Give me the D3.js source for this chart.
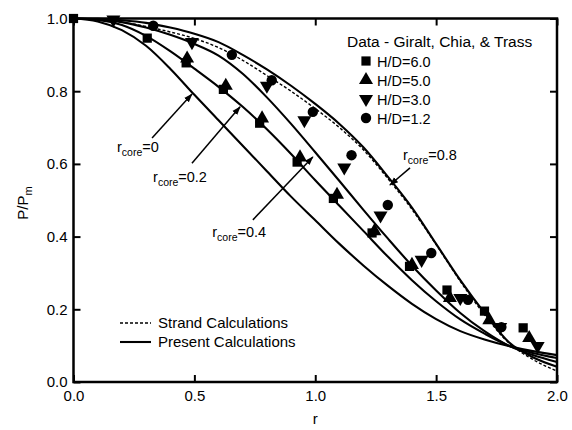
<!DOCTYPE html>
<html>
<head>
<meta charset="utf-8">
<script src="https://cdn.jsdelivr.net/npm/d3@7"></script>
<style>
  html, body { margin: 0; padding: 0; background: #fff; }
  svg { display: block; font-family: "Liberation Sans", Arial, Helvetica, sans-serif; }
</style>
</head>
<body>
<svg id="chart" width="572" height="430"></svg>
<script>
// Radial grid shared by all computed profiles
const rCurve = [0, 0.1, 0.2, 0.3, 0.4, 0.5, 0.6, 0.7, 0.8, 0.9, 1.0, 1.1, 1.2, 1.3, 1.4, 1.5, 1.6, 1.7, 1.8, 1.9, 2.0];

// Present calculations, P/Pm for each core radius
const core00 = [1.0, 0.992, 0.968, 0.925, 0.862, 0.79, 0.72, 0.65, 0.58, 0.51, 0.445, 0.38, 0.32, 0.265, 0.215, 0.173, 0.14, 0.117, 0.099, 0.085, 0.074];
const core02 = [1.0, 0.996, 0.982, 0.952, 0.91, 0.862, 0.812, 0.757, 0.695, 0.627, 0.555, 0.485, 0.415, 0.345, 0.28, 0.222, 0.172, 0.133, 0.1, 0.08, 0.066];
const core04 = [1.0, 0.998, 0.99, 0.975, 0.955, 0.93, 0.898, 0.848, 0.783, 0.71, 0.632, 0.553, 0.473, 0.395, 0.32, 0.252, 0.19, 0.14, 0.1, 0.074, 0.055];
const core08 = [1.0, 0.999, 0.995, 0.988, 0.975, 0.958, 0.935, 0.9, 0.86, 0.815, 0.765, 0.71, 0.645, 0.565, 0.48, 0.38, 0.28, 0.19, 0.11, 0.068, 0.042];

// Strand calculations
const strand = [1.0, 0.998, 0.99, 0.978, 0.963, 0.945, 0.92, 0.885, 0.843, 0.8, 0.752, 0.7, 0.638, 0.56, 0.475, 0.378, 0.277, 0.185, 0.108, 0.062, 0.03];

// Measured data (Giralt, Chia & Trass): radius and P/Pm per H/D
const hd60R = [0, 0.305, 0.466, 0.62, 0.77, 0.925, 1.075, 1.235, 1.39, 1.545, 1.70, 1.86];
const hd60P = [1.0, 0.946, 0.878, 0.805, 0.712, 0.605, 0.505, 0.41, 0.318, 0.253, 0.195, 0.149];
const hd50R = [0.47, 0.63, 0.78, 0.937, 1.09, 1.245, 1.40, 1.557, 1.72, 1.885];
const hd50P = [0.89, 0.815, 0.725, 0.618, 0.515, 0.415, 0.322, 0.231, 0.17, 0.121];
const hd30R = [0.165, 0.49, 0.80, 0.955, 1.12, 1.27, 1.44, 1.6, 1.765, 1.92];
const hd30P = [0.997, 0.935, 0.815, 0.72, 0.59, 0.458, 0.336, 0.231, 0.151, 0.099];
const hd12R = [0.33, 0.655, 0.82, 0.99, 1.15, 1.30, 1.48, 1.632, 1.77];
const hd12P = [0.98, 0.9, 0.83, 0.743, 0.624, 0.487, 0.355, 0.226, 0.151];

// Axis ticks
const xTicks = [0, 0.5, 1.0, 1.5, 2.0];
const yTicks = [0, 0.2, 0.4, 0.6, 0.8, 1.0];

// Legend entries
const dataTitle = "Data - Giralt, Chia, & Trass";
const seriesNames = ["H/D=6.0", "H/D=5.0", "H/D=3.0", "H/D=1.2"];
const lineNames = ["Strand Calculations", "Present Calculations"];

// Core-radius callouts: label anchor and arrow, in data units
const calloutText = ["0", "0.2", "0.4", "0.8"];
const calloutLabelR = [0.18, 0.329, 0.574, 1.363];
const calloutLabelP = [0.632, 0.55, 0.4, 0.612];
const calloutFromR = [0.325, 0.49, 0.742, 1.392];
const calloutFromP = [0.671, 0.602, 0.446, 0.589];
const calloutToR = [0.49, 0.689, 0.99, 1.309];
const calloutToP = [0.792, 0.757, 0.619, 0.542];

const svg = d3.select("#chart");
const x = d3.scaleLinear().domain([0, 2]).range([73.5, 557]);
const y = d3.scaleLinear().domain([0, 1]).range([382, 18.5]);

svg.append("defs").append("marker")
  .attr("id", "head")
  .attr("viewBox", "0 0 10 10")
  .attr("refX", 9).attr("refY", 5)
  .attr("markerWidth", 9).attr("markerHeight", 9)
  .attr("markerUnits", "userSpaceOnUse")
  .attr("orient", "auto")
  .append("path").attr("d", "M0,1.5 L10,5 L0,8.5 Z").attr("fill", "#000");

// Axes with inward ticks on all four sides
const fmt = d3.format(".1f");
const gB = svg.append("g").attr("transform", `translate(0,${y(0)})`)
  .call(d3.axisBottom(x).tickValues(xTicks).tickSize(-7).tickPadding(8).tickFormat(fmt));
const gT = svg.append("g").attr("transform", `translate(0,${y(1)})`)
  .call(d3.axisTop(x).tickValues(xTicks).tickSize(-7).tickFormat(""));
const gL = svg.append("g").attr("transform", `translate(${x(0)},0)`)
  .call(d3.axisLeft(y).tickValues(yTicks).tickSize(-7).tickPadding(6).tickFormat(fmt));
const gR = svg.append("g").attr("transform", `translate(${x(2)},0)`)
  .call(d3.axisRight(y).tickValues(yTicks).tickSize(-7).tickFormat(""));
[gB, gT, gL, gR].forEach(g => {
  g.select(".domain").remove();
  g.selectAll(".tick line").attr("stroke", "#000").attr("stroke-width", 2);
  g.selectAll(".tick text").attr("fill", "#000").attr("font-size", 15)
    .attr("font-family", "Liberation Sans, Arial, sans-serif");
});

// Plot frame
svg.append("rect")
  .attr("x", x(0)).attr("y", y(1))
  .attr("width", x(2) - x(0)).attr("height", y(0) - y(1))
  .attr("fill", "none").attr("stroke", "#000").attr("stroke-width", 2.5);

// Axis titles
svg.append("text").attr("x", x(1)).attr("y", 424).attr("text-anchor", "middle")
  .attr("font-size", 15).text("r");
const yl = svg.append("text").attr("transform", "translate(28,203) rotate(-90)")
  .attr("text-anchor", "middle").attr("font-size", 15);
yl.append("tspan").text("P/P");
yl.append("tspan").attr("font-size", 11).attr("dy", 4).text("m");

// Computed profiles
const line = d3.line().x(d => x(d[0])).y(d => y(d[1])).curve(d3.curveMonotoneX);
[core00, core02, core04, core08].forEach(vals => {
  svg.append("path").datum(rCurve.map((r, i) => [r, vals[i]]))
    .attr("d", line).attr("fill", "none").attr("stroke", "#000").attr("stroke-width", 2.1);
});
svg.append("path").datum(rCurve.map((r, i) => [r, strand[i]]))
  .attr("d", line).attr("fill", "none").attr("stroke", "#000")
  .attr("stroke-width", 1.4).attr("stroke-dasharray", "3,2");

// Measured points
const symSize = 85;
const sets = [
  { r: hd60R, p: hd60P, type: d3.symbolSquare, rot: 0 },
  { r: hd50R, p: hd50P, type: d3.symbolTriangle, rot: 0 },
  { r: hd30R, p: hd30P, type: d3.symbolTriangle, rot: 180 },
  { r: hd12R, p: hd12P, type: d3.symbolCircle, rot: 0 }
];
sets.forEach(s => {
  const sym = d3.symbol().type(s.type).size(symSize);
  svg.append("g").selectAll("path").data(s.r.map((r, i) => [r, s.p[i]])).join("path")
    .attr("d", sym)
    .attr("transform", d => `translate(${x(d[0])},${y(d[1])}) rotate(${s.rot})`)
    .attr("fill", "#000");
});

// Data legend
const lg = svg.append("g");
lg.append("text").attr("x", 347).attr("y", 47).attr("font-size", 15.5).text(dataTitle);
seriesNames.forEach((name, i) => {
  const yy = 61 + i * 19;
  const sym = d3.symbol().type(sets[i].type).size(symSize);
  lg.append("path").attr("d", sym)
    .attr("transform", `translate(366,${yy}) rotate(${sets[i].rot})`).attr("fill", "#000");
  lg.append("text").attr("x", 377).attr("y", yy + 5.5).attr("font-size", 14.5).text(name);
});

// Line legend
lineNames.forEach((name, i) => {
  const yy = 323 + i * 19;
  svg.append("line").attr("x1", 120).attr("x2", 151).attr("y1", yy).attr("y2", yy)
    .attr("stroke", "#000").attr("stroke-width", i === 0 ? 1.4 : 2.1)
    .attr("stroke-dasharray", i === 0 ? "3,2" : null);
  svg.append("text").attr("x", 158).attr("y", yy + 5).attr("font-size", 15).text(name);
});

// Core-radius callouts
calloutText.forEach((t, i) => {
  svg.append("line")
    .attr("x1", x(calloutFromR[i])).attr("y1", y(calloutFromP[i]))
    .attr("x2", x(calloutToR[i])).attr("y2", y(calloutToP[i]))
    .attr("stroke", "#000").attr("stroke-width", 1.5).attr("marker-end", "url(#head)");
  const tx = svg.append("text").attr("x", x(calloutLabelR[i])).attr("y", y(calloutLabelP[i]))
    .attr("font-size", 14.5);
  tx.append("tspan").text("r");
  tx.append("tspan").attr("font-size", 10.5).attr("dy", 4).text("core");
  tx.append("tspan").attr("dy", -4).text("=" + t);
});
</script>
</body>
</html>
